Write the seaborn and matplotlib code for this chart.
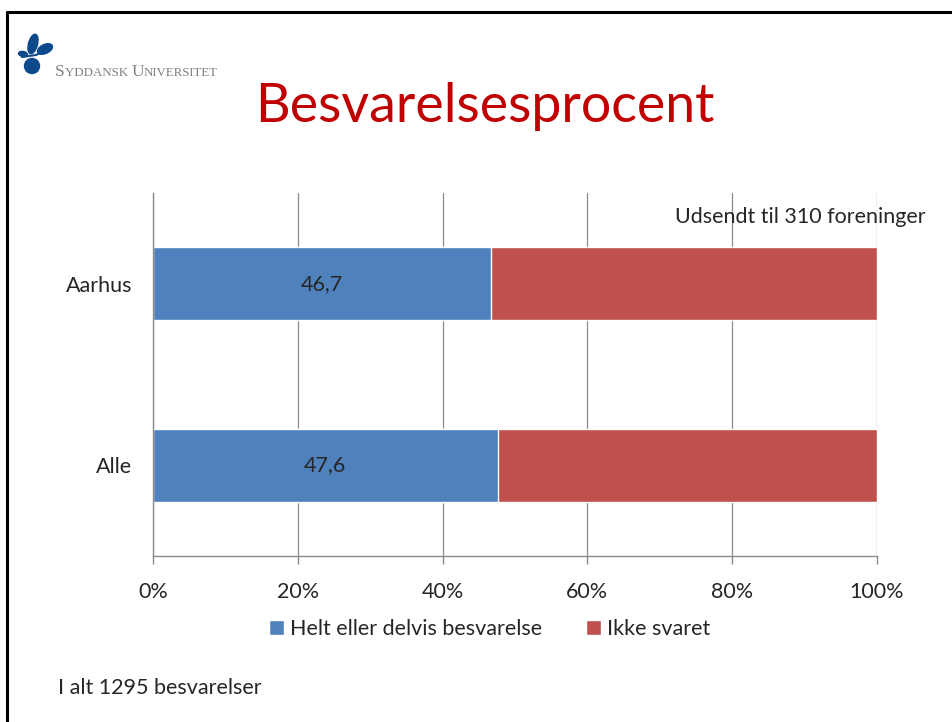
import matplotlib
matplotlib.use("Agg")
import matplotlib.pyplot as plt
import seaborn as sns
from matplotlib.patches import Ellipse, Circle
from matplotlib.ticker import PercentFormatter, FixedLocator

categories = ["Aarhus", "Alle"]
besvaret = [46.7, 47.6]
ikke_svaret = [53.3, 52.4]
bar_labels = ["46,7", "47,6"]
series_names = ["Helt eller delvis besvarelse", "Ikke svaret"]
colors = ["#4F81BD", "#C0504D"]

sns.set_style("white")
plt.rcParams["font.family"] = ["Lato", "DejaVu Sans"]
fs = 15.5

fig = plt.figure(figsize=(9.53, 7.22), dpi=100)

# decoration layer in pixel coords (border + logo)
deco = fig.add_axes([0, 0, 1, 1])
deco.set_xlim(0, 953)
deco.set_ylim(722, 0)
deco.axis("off")
deco.plot([7, 953], [12, 12], color="black", lw=2.2)
deco.plot([7, 7], [12, 722], color="black", lw=2.2)
logo_blue = "#0D4A8C"
deco.add_patch(Ellipse((33, 44), 9, 20, angle=15, color=logo_blue))
deco.add_patch(Ellipse((45, 49), 16, 9, angle=-25, color=logo_blue))
deco.add_patch(Ellipse((23, 54), 9, 5, angle=10, color=logo_blue))
deco.add_patch(Circle((32, 66), 7.5, color=logo_blue))
deco.plot([22, 36, 46], [57, 55, 50], color=logo_blue, lw=1.5)

# small caps logo text
renderer = fig.canvas.get_renderer()
x = 55
for piece, size in [("S", 12.5), ("YDDANSK ", 9.3), ("U", 12.5), ("NIVERSITET", 9.3)]:
    t = deco.text(x, 76, piece, family="Liberation Serif", fontsize=size,
                  color="#808080", va="baseline")
    x += t.get_window_extent(renderer).width

fig.text(0.509, 0.853, "Besvarelsesprocent", color="#C00000",
         fontsize=38.7, ha="center", va="center")

ax = fig.add_axes([0.1605, 0.2299, 0.7598, 0.5028])
totals = [b + i for b, i in zip(besvaret, ikke_svaret)]
sns.barplot(x=totals, y=categories, orient="h", color=colors[1],
            width=0.4, saturation=1, ax=ax, label=series_names[1])
sns.barplot(x=besvaret, y=categories, orient="h", color=colors[0],
            width=0.4, saturation=1, ax=ax, label=series_names[0])

for i, (v, lab) in enumerate(zip(besvaret, bar_labels)):
    ax.text(v / 2, i, lab, ha="center", va="center", fontsize=fs)

ax.set_xlim(0, 100)
ax.set_ylim(1.5, -0.5)
ax.set_xticks([0, 20, 40, 60, 80, 100])
ax.xaxis.set_major_formatter(PercentFormatter(decimals=0))
ax.yaxis.set_minor_locator(FixedLocator([-0.5, 0.5, 1.5]))
ax.tick_params(axis="y", which="major", length=0, pad=15, labelsize=fs)
ax.tick_params(axis="y", which="minor", length=5, color="#8c8c8c", width=1)
ax.tick_params(axis="x", length=6, color="#8c8c8c", width=1, pad=13,
               labelsize=fs, bottom=True)
ax.grid(axis="x", color="#8c8c8c", lw=0.9)
ax.set_axisbelow(True)
for side in ["top", "right"]:
    ax.spines[side].set_visible(False)
for side in ["left", "bottom"]:
    ax.spines[side].set_color("#8c8c8c")
    ax.spines[side].set_linewidth(1)
ax.set_xlabel("")
ax.set_ylabel("")

handles, labels = ax.get_legend_handles_labels()
order = [labels.index(n) for n in series_names]
ax.legend([handles[k] for k in order], [labels[k] for k in order],
          loc="center", bbox_to_anchor=(0.465, -0.20), ncol=2, frameon=False,
          fontsize=fs, handlelength=0.7, handleheight=0.7,
          handletextpad=0.3, columnspacing=2.0)

ax.text(1.067, 0.935, "Udsendt til 310 foreninger", transform=ax.transAxes,
        ha="right", va="center", fontsize=fs)
fig.text(0.061, 0.047, "I alt 1295 besvarelser", fontsize=fs, va="center")

fig.savefig("out.png", dpi=100)
